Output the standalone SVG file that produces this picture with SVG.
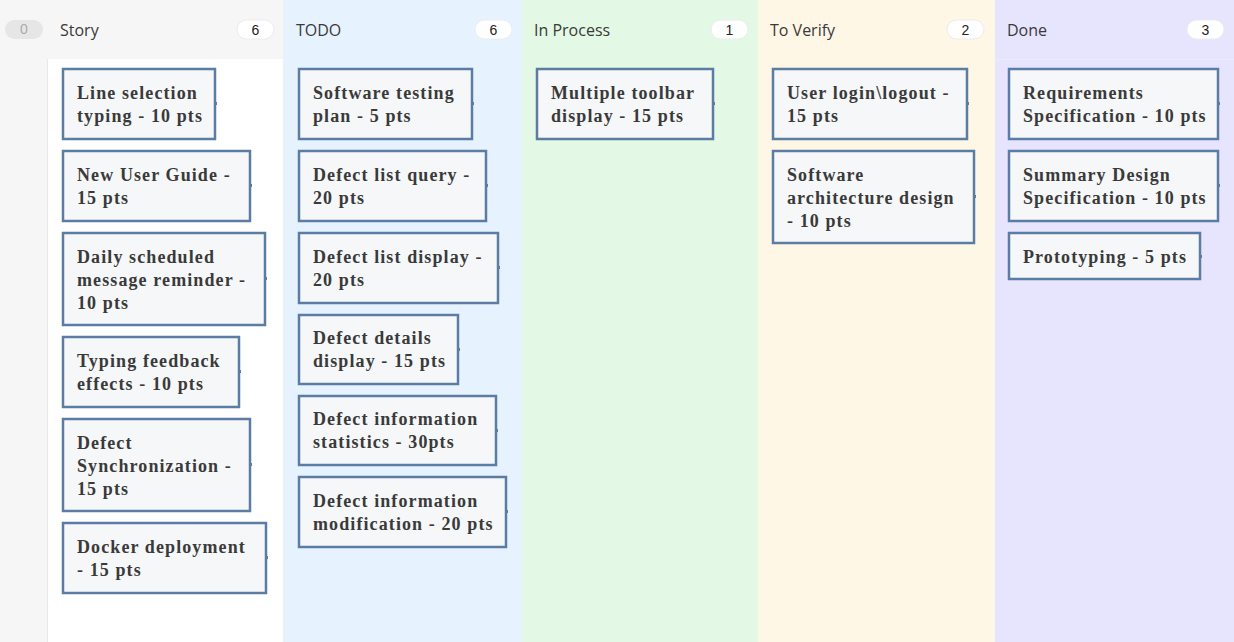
<svg xmlns="http://www.w3.org/2000/svg" width="1234" height="642" viewBox="0 0 1234 642">
<style>
.hd{font-family:"Open Sans","Noto Sans",sans-serif;font-size:16px;fill:#3a3a3a}
.cnt{font-family:"Liberation Sans",Arial,sans-serif;font-size:14px;fill:#222;text-anchor:middle}
.pill{fill:#fff;stroke:#ececec;stroke-width:1}
.card{fill:#f6f7f9;stroke:#5b7da3;stroke-width:2.5}
.tick{fill:#5b7da3}
.t{font-family:"Liberation Serif","Times New Roman",serif;font-weight:bold;font-size:18px;letter-spacing:1.1px;fill:#3a3a3a}
</style>
<!-- backgrounds -->
<rect x="0" y="0" width="283" height="642" fill="#f6f6f6"/>
<rect x="47" y="59" width="236" height="583" fill="#ffffff"/>
<line x1="47.5" y1="59" x2="47.5" y2="642" stroke="#e8e8e8"/>
<rect x="283" y="0" width="239" height="642" fill="#e6f3ff"/>
<rect x="522" y="0" width="236" height="642" fill="#e3f9e5"/>
<rect x="758" y="0" width="237" height="642" fill="#fff7e6"/>
<rect x="995" y="0" width="239" height="642" fill="#e6e5fd"/>
<line x1="995" y1="59.5" x2="1234" y2="59.5" stroke="#eceaf6"/>
<!-- headers -->
<g id="hdr-left"><rect x="5" y="20" width="38" height="19" rx="9.5" fill="#e6e6e6"/><text x="24" y="34" class="cnt" style="fill:#ababab">0</text></g>
<g id="hdr-story"><text x="60" y="36" class="hd">Story</text><rect x="237" y="20" width="37" height="19" rx="9.5" class="pill"/><text x="255.5" y="34.5" class="cnt">6</text></g>
<g id="hdr-todo"><text x="296" y="36" class="hd">TODO</text><rect x="475" y="20" width="37" height="19" rx="9.5" class="pill"/><text x="493.5" y="34.5" class="cnt">6</text></g>
<g id="hdr-inprocess"><text x="534" y="36" class="hd">In Process</text><rect x="711" y="20" width="37" height="19" rx="9.5" class="pill"/><text x="729.5" y="34.5" class="cnt">1</text></g>
<g id="hdr-toverify"><text x="770" y="36" class="hd">To Verify</text><rect x="947" y="20" width="37" height="19" rx="9.5" class="pill"/><text x="965.5" y="34.5" class="cnt">2</text></g>
<g id="hdr-done"><text x="1007" y="36" class="hd">Done</text><rect x="1187" y="20" width="37" height="19" rx="9.5" class="pill"/><text x="1205.5" y="34.5" class="cnt">3</text></g>
<g id="connectors"></g>
<!-- Story -->
<g id="s1"><rect x="63" y="69" width="152" height="70" class="card"/><rect x="215" y="102" width="2" height="3" class="tick"/><text class="t"><tspan x="77" y="99">Line selection</tspan><tspan x="77" y="122">typing - 10 pts</tspan></text></g>
<g id="s2"><rect x="63" y="151" width="187" height="70" class="card"/><rect x="250" y="184" width="2" height="3" class="tick"/><text class="t"><tspan x="77" y="181">New User Guide -</tspan><tspan x="77" y="204">15 pts</tspan></text></g>
<g id="s3"><rect x="63" y="233" width="202" height="92" class="card"/><rect x="265" y="277" width="2" height="3" class="tick"/><text class="t"><tspan x="77" y="263">Daily scheduled</tspan><tspan x="77" y="286">message reminder -</tspan><tspan x="77" y="309">10 pts</tspan></text></g>
<g id="s4"><rect x="63" y="337" width="176" height="70" class="card"/><rect x="239" y="370" width="2" height="3" class="tick"/><text class="t"><tspan x="77" y="367">Typing feedback</tspan><tspan x="77" y="390">effects - 10 pts</tspan></text></g>
<g id="s5"><rect x="63" y="419" width="187" height="92" class="card"/><rect x="250" y="463" width="2" height="3" class="tick"/><text class="t"><tspan x="77" y="449">Defect</tspan><tspan x="77" y="472">Synchronization -</tspan><tspan x="77" y="495">15 pts</tspan></text></g>
<g id="s6"><rect x="63" y="523" width="203" height="70" class="card"/><rect x="266" y="556" width="2" height="3" class="tick"/><text class="t"><tspan x="77" y="553">Docker deployment</tspan><tspan x="77" y="576">- 15 pts</tspan></text></g>
<!-- TODO -->
<g id="t1"><rect x="299" y="69" width="173" height="70" class="card"/><rect x="472" y="102" width="2" height="3" class="tick"/><text class="t"><tspan x="313" y="99">Software testing</tspan><tspan x="313" y="122">plan - 5 pts</tspan></text></g>
<g id="t2"><rect x="299" y="151" width="187" height="70" class="card"/><rect x="486" y="184" width="2" height="3" class="tick"/><text class="t"><tspan x="313" y="181">Defect list query -</tspan><tspan x="313" y="204">20 pts</tspan></text></g>
<g id="t3"><rect x="299" y="233" width="199" height="70" class="card"/><rect x="498" y="266" width="2" height="3" class="tick"/><text class="t"><tspan x="313" y="263">Defect list display -</tspan><tspan x="313" y="286">20 pts</tspan></text></g>
<g id="t4"><rect x="299" y="315" width="159" height="69" class="card"/><rect x="458" y="348" width="2" height="3" class="tick"/><text class="t"><tspan x="313" y="344">Defect details</tspan><tspan x="313" y="367">display - 15 pts</tspan></text></g>
<g id="t5"><rect x="299" y="396" width="197" height="69" class="card"/><rect x="496" y="429" width="2" height="3" class="tick"/><text class="t"><tspan x="313" y="425">Defect information</tspan><tspan x="313" y="448">statistics - 30pts</tspan></text></g>
<g id="t6"><rect x="299" y="477" width="207" height="70" class="card"/><rect x="506" y="510" width="2" height="3" class="tick"/><text class="t"><tspan x="313" y="507">Defect information</tspan><tspan x="313" y="530">modification - 20 pts</tspan></text></g>
<!-- In Process -->
<g id="p1"><rect x="537" y="69" width="176" height="70" class="card"/><rect x="713" y="102" width="2" height="3" class="tick"/><text class="t"><tspan x="551" y="99">Multiple toolbar</tspan><tspan x="551" y="122">display - 15 pts</tspan></text></g>
<!-- To Verify -->
<g id="v1"><rect x="773" y="69" width="194" height="70" class="card"/><rect x="967" y="102" width="2" height="3" class="tick"/><text class="t"><tspan x="787" y="99">User login\logout -</tspan><tspan x="787" y="122">15 pts</tspan></text></g>
<g id="v2"><rect x="773" y="151" width="201" height="92" class="card"/><rect x="974" y="195" width="2" height="3" class="tick"/><text class="t"><tspan x="787" y="181">Software</tspan><tspan x="787" y="204">architecture design</tspan><tspan x="787" y="227">- 10 pts</tspan></text></g>
<!-- Done -->
<g id="d1"><rect x="1009" y="69" width="209" height="70" class="card"/><rect x="1218" y="102" width="2" height="3" class="tick"/><text class="t"><tspan x="1023" y="99">Requirements</tspan><tspan x="1023" y="122">Specification - 10 pts</tspan></text></g>
<g id="d2"><rect x="1009" y="151" width="209" height="70" class="card"/><rect x="1218" y="184" width="2" height="3" class="tick"/><text class="t"><tspan x="1023" y="181">Summary Design</tspan><tspan x="1023" y="204">Specification - 10 pts</tspan></text></g>
<g id="d3"><rect x="1009" y="233" width="191" height="46" class="card"/><rect x="1200" y="255" width="2" height="3" class="tick"/><text class="t"><tspan x="1023" y="263">Prototyping - 5 pts</tspan></text></g>
</svg>
